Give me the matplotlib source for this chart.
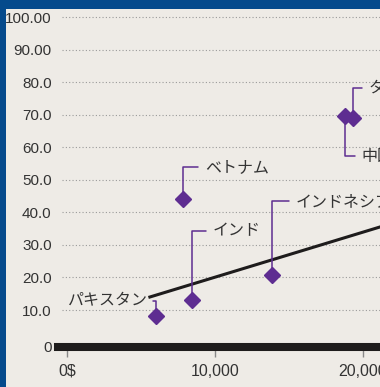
import matplotlib
matplotlib.use('Agg')
import matplotlib.pyplot as plt
from matplotlib.patches import Rectangle

plt.rcParams['font.family'] = ['Liberation Sans', 'Noto Sans CJK JP', 'DejaVu Sans']

# datos
paises = ['パキスタン', 'インド', 'ベトナム', 'インドネシア', '中国', 'タイ']
ingreso = [6010, 8450, 7840, 13850, 18780, 19320]
valor = [8.2, 13.1, 44.1, 20.7, 69.6, 69.0]
# desplazamiento de etiquetas (pixeles)
offsets = [(-8, 15), (21, 69), (22, 32), (24, 74), (17, -40), (16, 30)]

tendencia_x = [5600, 22000]
tendencia_y = [14.0, 36.7]

yticks = [-1.36, 10, 20, 30, 40, 50, 60, 70, 80, 90, 100]
ylabels = ['0', '10.0', '20.0', '30.0', '40.0', '50.0', '60.0', '70.0', '80.0', '90.00', '100.00']
xticks = [0, 10000, 20000]
xlabels = ['0$', '10,000', '20,000']

fondo = '#EEEBE6'
azul = '#054A8C'
morado = '#5E2D91'
texto = '#333333'

fig = plt.figure(figsize=(3.80, 3.87), dpi=100)
fig.patch.set_facecolor(azul)
fig.patches.append(Rectangle((6 / 380, 0), 1, 1 - 9 / 387, transform=fig.transFigure,
                             facecolor=fondo, edgecolor='none', zorder=-10))

ax = fig.add_axes([58 / 380, 40 / 387, 1 - 58 / 380, (347 - 9) / 387])
ax.set_facecolor('none')
ax.set_xlim(-608, 21150)
ax.set_ylim(-1.36, 102.5)

for s in ['top', 'right', 'left']:
    ax.spines[s].set_visible(False)
ax.spines['bottom'].set_linewidth(5.8)
ax.spines['bottom'].set_color('#1E1C1C')

ax.set_yticks(yticks)
ax.set_yticklabels(ylabels, fontsize=11, color=texto)
ax.tick_params(axis='y', length=0, pad=4.5)
ax.set_xticks(xticks)
ax.set_xticklabels(xlabels, fontsize=11.5, color=texto)
ax.tick_params(axis='x', length=7.2, width=1, color='#888888', pad=5)

# lineas de guia punteadas
for y in yticks[1:]:
    ax.axhline(y, xmin=4 / 322, color='#9A9A9A', lw=0.8, ls=(0, (1, 2)), zorder=0)

ax.plot(tendencia_x, tendencia_y, color='#1E1C1C', lw=2.2, zorder=3, clip_on=True)

ax.plot(ingreso, valor, 'D', color=morado, markersize=8.5, zorder=4, clip_on=False)

for nombre, x, y, (dx, dy) in zip(paises, ingreso, valor, offsets):
    ha = 'right' if dx < 0 else 'left'
    ax.annotate(nombre, xy=(x, y), xytext=(dx, dy), textcoords='offset pixels',
                ha=ha, va='center', fontsize=11.5, color=texto,
                family=['Noto Sans CJK JP', 'DejaVu Sans'],
                arrowprops=dict(arrowstyle='-', color=morado, lw=1.1,
                                connectionstyle='angle,angleA=0,angleB=90,rad=0',
                                shrinkA=3 if dx > 0 else -2, shrinkB=5),
                zorder=5)

fig.savefig('out.png', dpi=100, facecolor=fig.get_facecolor())
